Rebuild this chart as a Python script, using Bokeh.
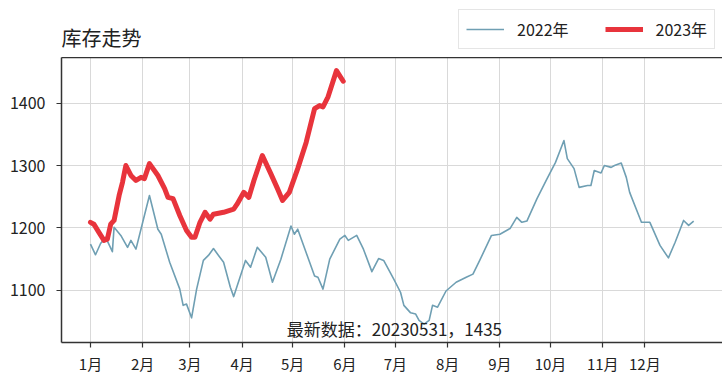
from bokeh.plotting import figure
from bokeh.layouts import column
from bokeh.models import Range1d, FixedTicker, LinearAxis, Label, Legend, LegendItem
from bokeh.embed import file_html
from bokeh.resources import INLINE

FONT = "Noto Sans CJK SC"

month_labels = ["1月", "2月", "3月", "4月", "5月", "6月", "7月", "8月", "9月", "10月", "11月", "12月"]
month_ticks = [0, 31, 59, 90, 120, 151, 181, 212, 243, 273, 304, 329]
y_ticks = [1100, 1200, 1300, 1400]

day_2022 = [0, 3, 6, 9, 13, 14, 18, 22, 24, 27, 31, 35, 40, 42, 47, 53, 55, 57, 60, 63,
            67, 70, 73, 76, 79, 83, 85, 92, 95, 99, 104, 108, 113, 119, 121, 123, 133, 135, 138, 142,
            148, 151, 153, 158, 162, 167, 171, 174, 180, 184, 186, 190, 193, 195, 198, 199, 201, 203, 206, 211,
            217, 223, 227, 231, 238, 243, 249, 253, 256, 259, 265, 271, 276, 281, 283, 287, 290, 295, 297, 299,
            303, 305, 309, 311, 315, 318, 320, 327, 332, 338, 343, 347, 352, 355, 358]
inv_2022 = [1174, 1157, 1175, 1185, 1162, 1201, 1188, 1169, 1180, 1166, 1209, 1252, 1198, 1190, 1145, 1102, 1076, 1078, 1056, 1102,
            1148, 1156, 1167, 1156, 1145, 1105, 1090, 1148, 1137, 1169, 1153, 1113, 1150, 1203, 1190, 1198, 1123, 1121, 1102, 1150,
            1182, 1188, 1180, 1188, 1166, 1130, 1151, 1148, 1118, 1097, 1076, 1064, 1062, 1052, 1046, 1048, 1052, 1076, 1073, 1099,
            1113, 1121, 1126, 1148, 1188, 1190, 1199, 1217, 1209, 1211, 1247, 1279, 1305, 1340, 1311, 1295, 1265, 1268, 1268, 1292,
            1288, 1300, 1297, 1300, 1304, 1281, 1257, 1209, 1209, 1172, 1152, 1177, 1212, 1204, 1211]

day_2023 = [0, 2, 5, 8, 10, 12, 14, 17, 19, 21, 24, 27, 30, 32, 35, 40, 44, 46, 49, 53,
            57, 60, 62, 65, 68, 71, 73, 79, 85, 87, 91, 94, 97, 102, 107, 111, 114, 118, 123, 128,
            133, 136, 138, 141, 146, 150]
inv_2023 = [1209, 1206, 1193, 1180, 1182, 1206, 1212, 1252, 1273, 1300, 1284, 1276, 1281, 1279, 1303, 1284, 1263, 1249, 1247, 1220,
            1196, 1185, 1185, 1209, 1225, 1214, 1222, 1225, 1230, 1238, 1257, 1249, 1276, 1316, 1287, 1263, 1244, 1257, 1295, 1337,
            1391, 1396, 1394, 1410, 1452, 1435]

series_names = ["2022年", "2023年"]
title_text = "库存走势"
note_text = "最新数据：20230531，1435"

C22 = "#6f9fb3"
C23 = "#e8343c"

# ---------- header (title + legend); its frame is aligned with the main frame (x 61..722) ----------
head = figure(width=722, height=57, output_backend="svg", toolbar_location=None,
              x_range=Range1d(61, 722), y_range=Range1d(0, 57),
              x_axis_type=None, y_axis_type=None,
              min_border_left=61, min_border_right=0, min_border_top=0, min_border_bottom=0)
head.outline_line_color = None
head.grid.visible = False
head.background_fill_color = "white"
head.border_fill_color = "white"

# legend proxies (kept off-screen, only their style is used by the legend)
h22 = head.line(x=[-900, -800], y=[-900, -900], line_color=C22, line_width=1.6)
h23 = head.line(x=[-900, -800], y=[-900, -900], line_color=C23, line_width=5)
legend = Legend(items=[LegendItem(label=series_names[0], renderers=[h22]),
                       LegendItem(label=series_names[1], renderers=[h23])],
                location=(397, 8), orientation="horizontal",
                label_text_font=FONT, label_text_font_size="16px", label_text_color="#222222",
                glyph_width=38, glyph_height=18, label_standoff=13, spacing=36,
                padding=7, margin=0, border_line_color="#cccccc", border_line_width=1,
                background_fill_color="white", background_fill_alpha=1.0)
head.add_layout(legend)
head.add_layout(Label(x=61, y=20, text=title_text, text_font=FONT, text_font_size="20px",
                      text_color="#222222", text_align="left", text_baseline="middle"))

# ---------- main chart ----------
p = figure(width=722, height=319, output_backend="svg", toolbar_location=None,
           x_range=Range1d(-17.2, 375.1), y_range=Range1d(1016.5, 1473),
           min_border_left=61, min_border_right=0, min_border_top=0, min_border_bottom=34)
p.background_fill_color = "white"
p.border_fill_color = "white"
p.outline_line_color = None

p.xgrid.ticker = FixedTicker(ticks=month_ticks)
p.ygrid.ticker = FixedTicker(ticks=y_ticks)
for g in (p.xgrid, p.ygrid):
    g.grid_line_color = "#d9d9d9"
    g.grid_line_width = 1

xa = p.xaxis[0]
xa.ticker = FixedTicker(ticks=month_ticks)
xa.major_label_overrides = {t: l for t, l in zip(month_ticks, month_labels)}
ya = p.yaxis[0]
ya.ticker = FixedTicker(ticks=y_ticks)
for ax in (xa, ya):
    ax.axis_line_color = "#333333"
    ax.axis_line_width = 1.5
    ax.major_tick_line_color = "#333333"
    ax.major_tick_line_width = 1.2
    ax.major_tick_out = 5
    ax.major_tick_in = 0
    ax.minor_tick_line_color = None
    ax.major_label_text_font = FONT
    ax.major_label_text_color = "#222222"
xa.major_label_text_font_size = "15px"
ya.major_label_text_font_size = "16px"
xa.major_label_standoff = 5
ya.major_label_standoff = 11

top = LinearAxis(ticker=FixedTicker(ticks=[]), major_label_text_font_size="0px",
                 axis_line_color="#333333", axis_line_width=1.5,
                 major_tick_out=0, major_tick_in=0, major_label_standoff=0,
                 major_tick_line_color=None, minor_tick_line_color=None)
p.add_layout(top, "above")

p.line(day_2022, inv_2022, line_color=C22, line_width=1.6, line_join="round")
p.line(day_2023, inv_2023, line_color=C23, line_width=5, line_join="round", line_cap="round")

p.add_layout(Label(x=180.4, y=1038.6, text=note_text, text_font=FONT, text_font_size="17px",
                   text_color="#222222", text_align="center", text_baseline="middle"))

layout = column(head, p, spacing=0)
open("out.html", "w").write(file_html(layout, INLINE))
